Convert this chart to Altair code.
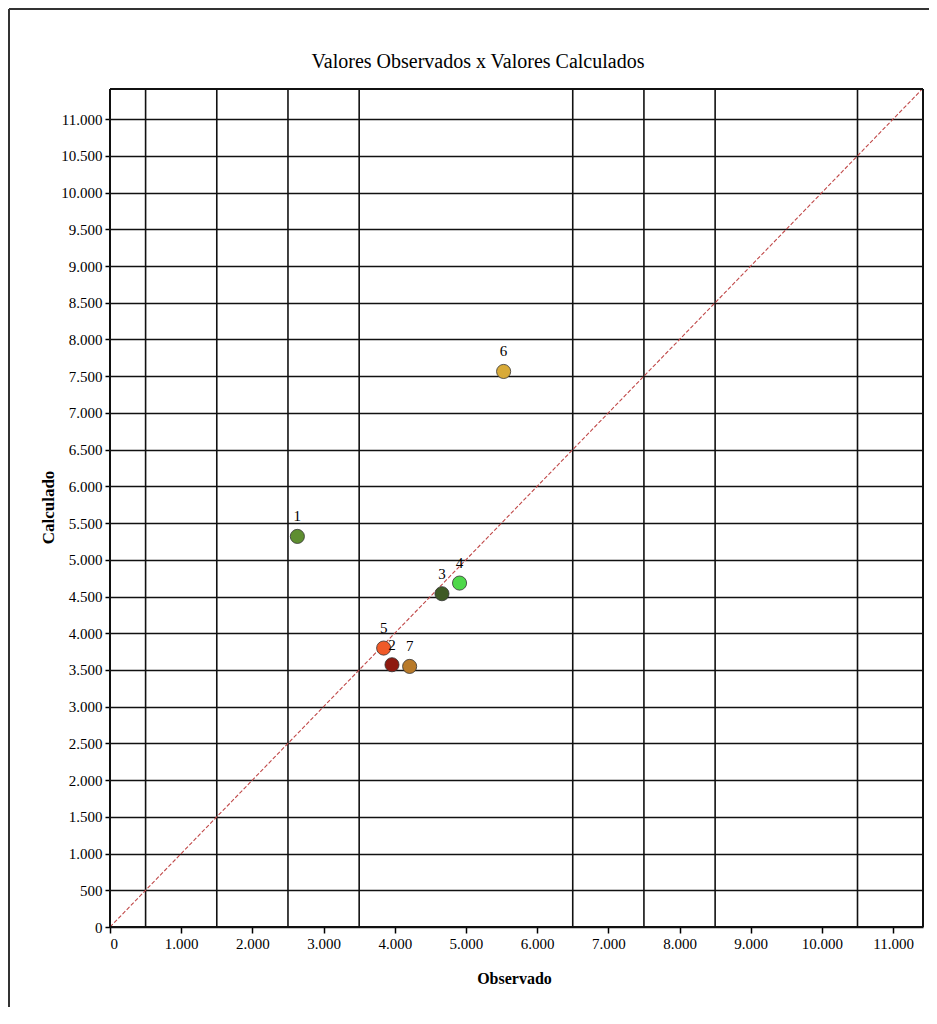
import altair as alt
import pandas as pd

# data
ids = ["1", "2", "3", "4", "5", "6", "7"]
observado = [2632, 3961, 4663, 4910, 3844, 5529, 4209]
calculado = [5318, 3571, 4538, 4683, 3798, 7564, 3548]
colors = ["#5e8e30", "#8e1a10", "#3e5a24", "#4ed84a", "#f05a28", "#d8aa38", "#b87a2a"]

x_ticks = list(range(0, 11001, 1000))
y_ticks = list(range(0, 11001, 500))
v_grid = [500, 1500, 2500, 3500, 6500, 7500, 8500, 10500]
diag = [0, 11420]
x_max = 11420
y_max = 11410

df = pd.DataFrame({"id": ids, "obs": observado, "calc": calculado, "cor": colors})
grid_df = pd.DataFrame({"g": v_grid})
diag_df = pd.DataFrame({"v": diag})

SERIF = "Liberation Serif"
W, H = 813, 838

xscale = alt.Scale(domain=[0, x_max], nice=False, zero=True)
yscale = alt.Scale(domain=[0, y_max], nice=False, zero=True)
fmt = "replace(format(datum.value, ','), ',', '.')"

xaxis = alt.Axis(values=x_ticks, labelExpr=fmt, grid=False, tickSize=6, tickColor="black",
                 tickWidth=1.5, domain=False, labelFont=SERIF, labelFontSize=15,
                 labelColor="black", labelPadding=3, labelOverlap=False,
                 title="Observado",
                 titleFont=SERIF, titleFontSize=16, titleFontWeight="bold",
                 titleColor="black", titleX=404, titleY=51, titleAlign="center",
                 titleBaseline="middle")
yaxis = alt.Axis(values=y_ticks, labelExpr=fmt, grid=True, gridColor="#111",
                 gridWidth=1.6, gridOpacity=1, tickSize=5, tickColor="black",
                 tickWidth=1.5, domain=False, labelFont=SERIF, labelFontSize=15,
                 labelColor="black", labelPadding=3, labelOverlap=False,
                 title="Calculado",
                 titleFont=SERIF, titleFontSize=17, titleFontWeight="bold",
                 titleColor="black", titleX=-62, titleY=418, titleAlign="center",
                 titleBaseline="middle", titleAngle=270)

points = alt.Chart(df).mark_circle(size=200, opacity=1, stroke="#333", strokeWidth=0.8).encode(
    x=alt.X("obs:Q", scale=xscale, axis=xaxis),
    y=alt.Y("calc:Q", scale=yscale, axis=yaxis),
    color=alt.Color("cor:N", scale=None),
)

labels = alt.Chart(df).mark_text(font=SERIF, fontSize=15, dy=-20, color="black").encode(
    x=alt.X("obs:Q", scale=xscale, axis=xaxis),
    y=alt.Y("calc:Q", scale=yscale, axis=yaxis),
    text="id:N",
)

vgrid = alt.Chart(grid_df).mark_rule(color="#111", strokeWidth=1.6).encode(
    x=alt.X("g:Q", scale=xscale, axis=xaxis)
)

diagonal = alt.Chart(diag_df).mark_line(color="#c04848", strokeWidth=1.1,
                                         strokeDash=[4, 2], clip=True).encode(
    x=alt.X("v:Q", scale=xscale, axis=xaxis),
    y=alt.Y("v:Q", scale=yscale, axis=yaxis),
)

one = alt.Data(values=[{"a": 1}])
title = alt.Chart(one).mark_text(text="Valores Observados x Valores Calculados",
                                 font=SERIF, fontSize=20, color="black",
                                 align="center", baseline="middle").encode(
    x=alt.value(368), y=alt.value(-27)
)
frame_left = alt.Chart(one).mark_rule(color="#333", strokeWidth=2).encode(
    x=alt.value(-101), y=alt.value(-80), y2=alt.value(H + 200)
)
frame_top = alt.Chart(one).mark_rule(color="#333", strokeWidth=2).encode(
    x=alt.value(-101), x2=alt.value(W + 100), y=alt.value(-80)
)
plot_top = alt.Chart(one).mark_rule(color="#111", strokeWidth=2).encode(
    x=alt.value(0), x2=alt.value(W), y=alt.value(0)
)
plot_right = alt.Chart(one).mark_rule(color="#111", strokeWidth=2).encode(
    x=alt.value(W), y=alt.value(0), y2=alt.value(H)
)
plot_left = alt.Chart(one).mark_rule(color="#111", strokeWidth=2).encode(
    x=alt.value(0), y=alt.value(0), y2=alt.value(H)
)
plot_bottom = alt.Chart(one).mark_rule(color="#111", strokeWidth=2).encode(
    x=alt.value(0), x2=alt.value(W), y=alt.value(H)
)

chart = alt.layer(vgrid, diagonal, plot_top, plot_right, plot_left, plot_bottom,
                  points, labels, title, frame_left, frame_top).properties(
    width=W, height=H,
    autosize=alt.AutoSizeParams(type="none"),
    padding={"left": 102, "top": 81, "right": 6, "bottom": 80},
).configure_view(stroke="#111", strokeWidth=2).configure(background="white")

chart.save("out.html", embed_options={"renderer": "svg", "actions": False})
